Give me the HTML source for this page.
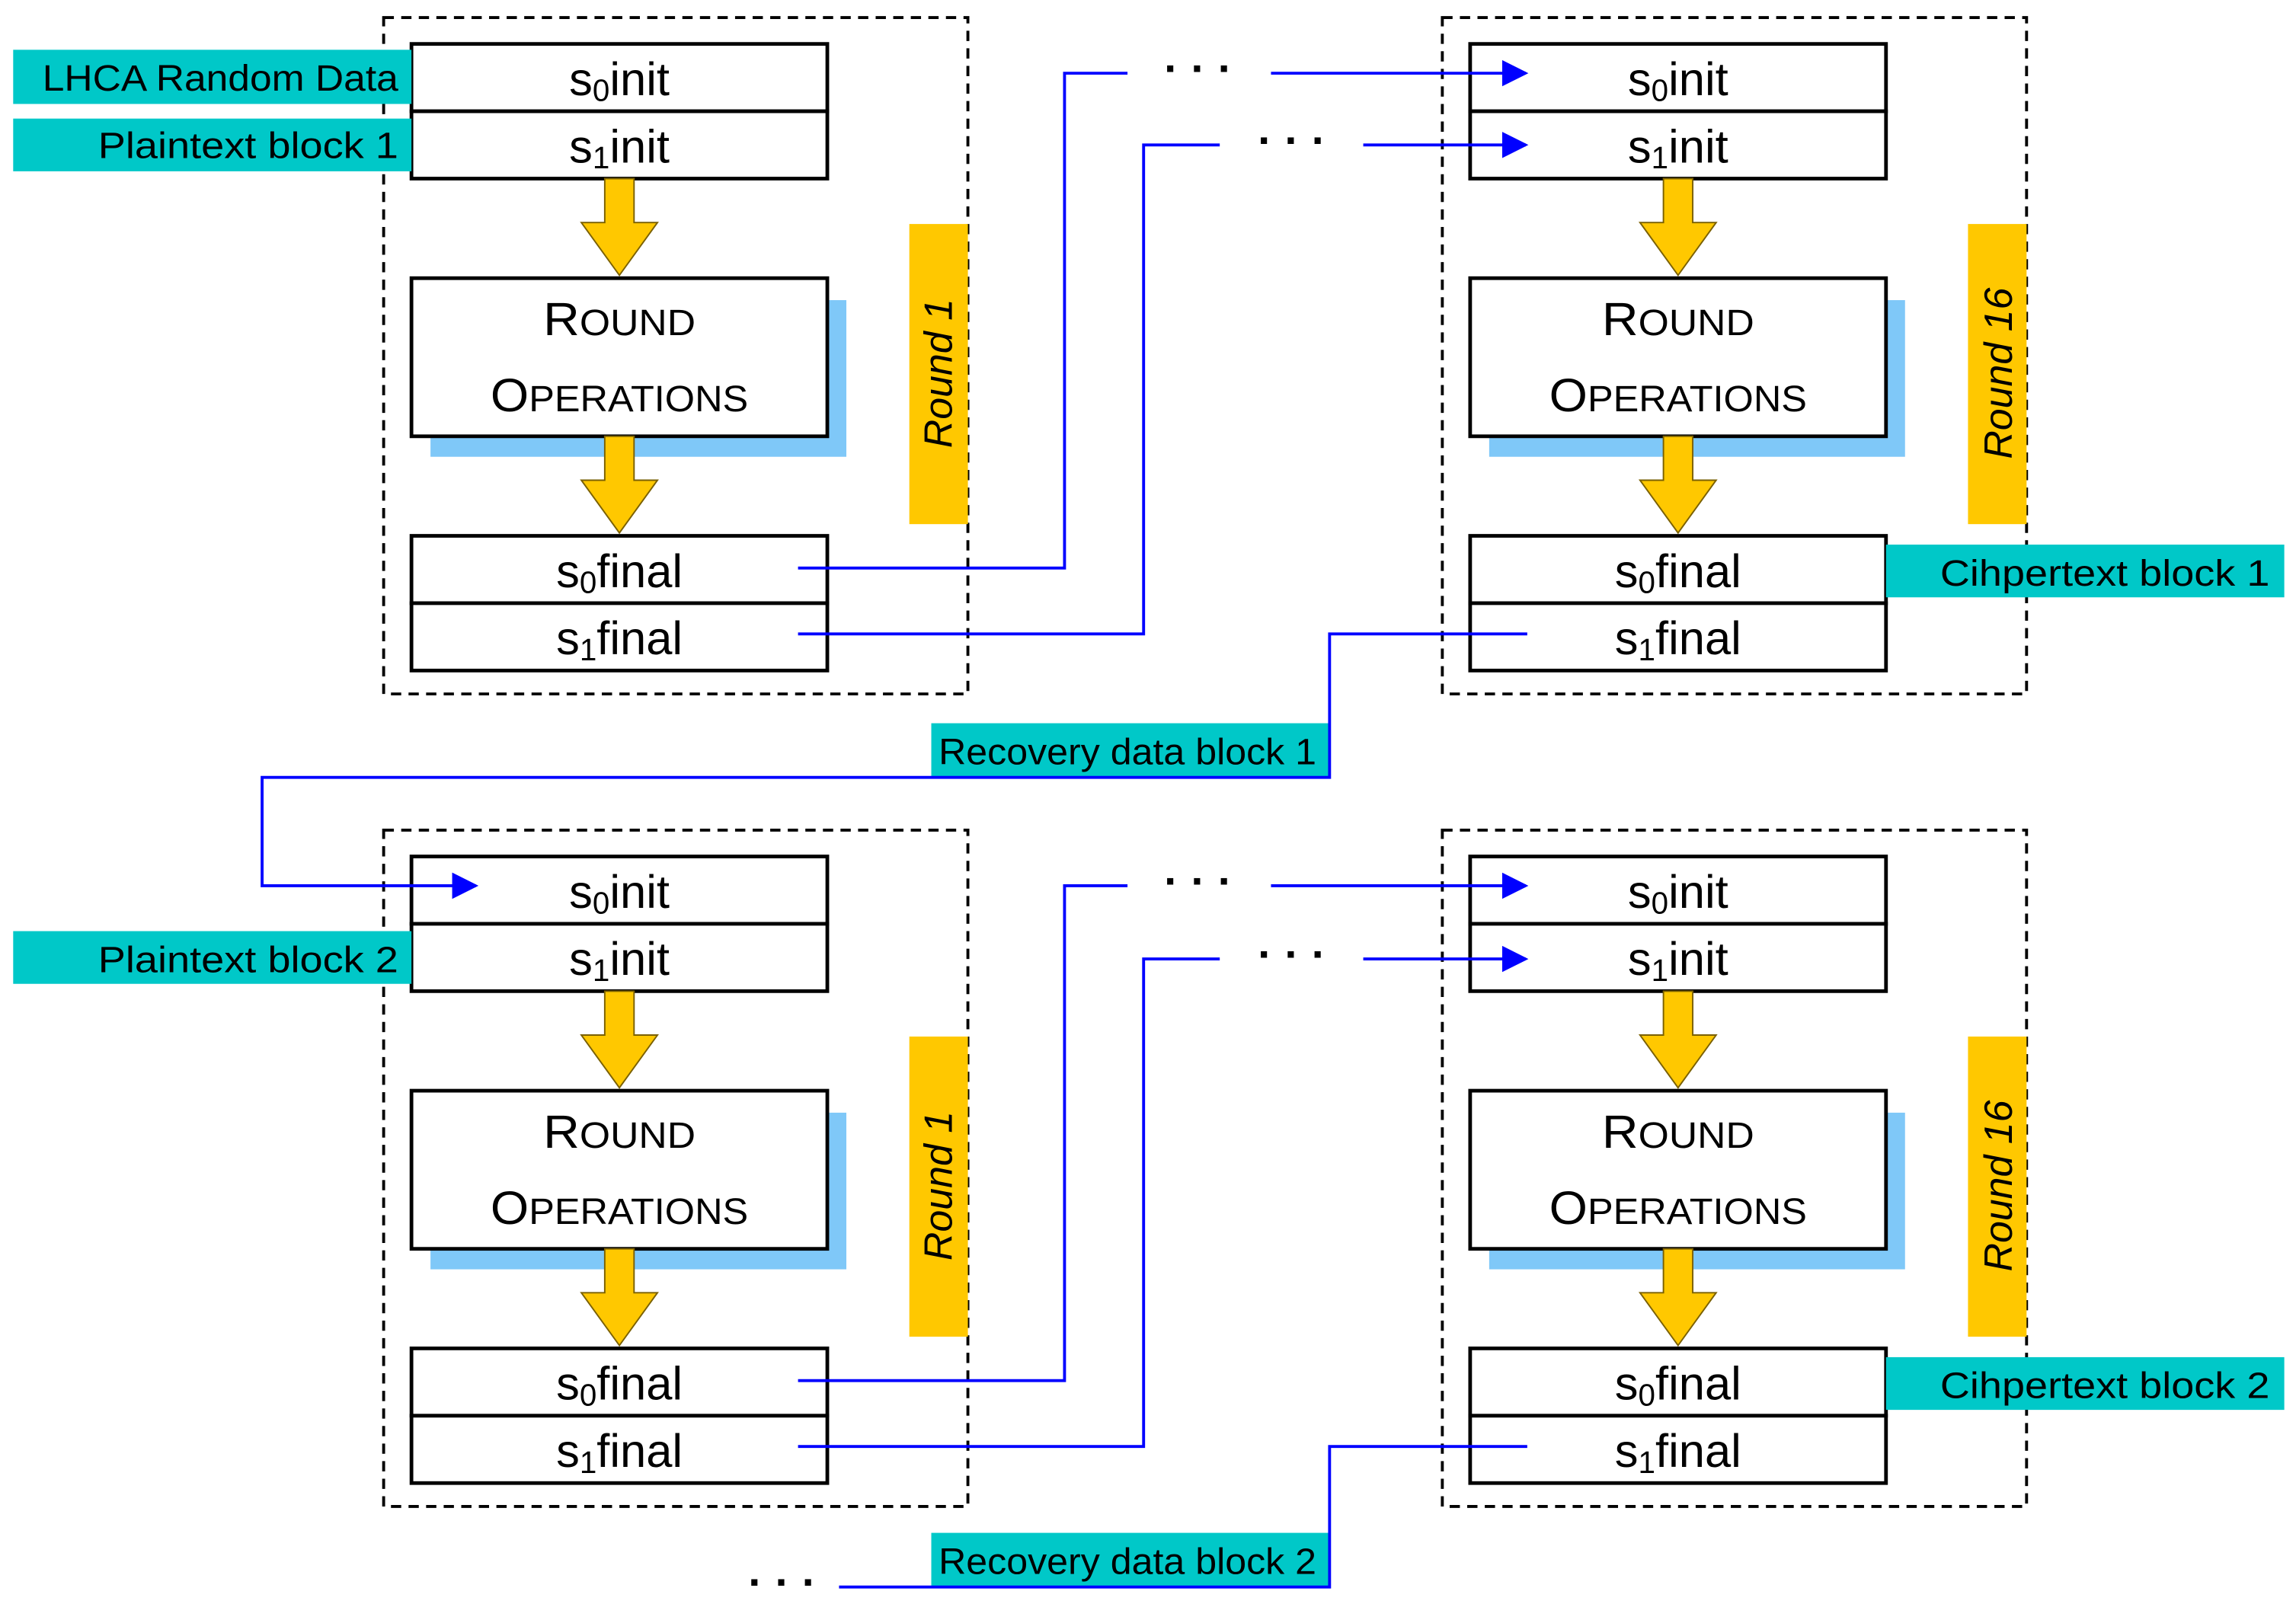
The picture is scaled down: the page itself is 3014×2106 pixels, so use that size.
<!DOCTYPE html>
<html><head><meta charset="utf-8"><style>
html,body{margin:0;padding:0;background:#fff;}
svg{display:block;}
text{font-family:"Liberation Sans",sans-serif;}
</style></head><body>
<svg width="3014" height="2106" viewBox="0 0 1568 1095.6" preserveAspectRatio="none" xmlns="http://www.w3.org/2000/svg">
<defs>
<marker id="ah" viewBox="0 0 10 10" refX="9" refY="5" markerWidth="9" markerHeight="9" orient="auto" markerUnits="strokeWidth"><path d="M0,0 L10,5 L0,10 z" fill="#0000ff"/></marker>
</defs>

<g id="m1">
<rect x="262" y="12" width="399" height="462" fill="none" stroke="#000" stroke-width="2" stroke-dasharray="7,5"/>
<rect x="621" y="153" width="40" height="205" fill="#ffc800"/>
<rect x="294" y="205" width="284" height="107" fill="#7fc8f8"/>
<rect x="281" y="30" width="284" height="46" fill="#fff" stroke="#000" stroke-width="2.5"/>
<rect x="281" y="76" width="284" height="46" fill="#fff" stroke="#000" stroke-width="2.5"/>
<polygon points="413,122 433,122 433,152 449,152 423,188 397,152 413,152" fill="#ffc800" stroke="#7a6000" stroke-width="1"/>
<rect x="281" y="190" width="284" height="108" fill="#fff" stroke="#000" stroke-width="2.5"/>
<polygon points="413,298 433,298 433,328 449,328 423,364 397,328 413,328" fill="#ffc800" stroke="#7a6000" stroke-width="1"/>
<rect x="281" y="366" width="284" height="46" fill="#fff" stroke="#000" stroke-width="2.5"/>
<rect x="281" y="412" width="284" height="46" fill="#fff" stroke="#000" stroke-width="2.5"/>
</g>
<use href="#m1" transform="translate(723,0)"/>
<use href="#m1" transform="translate(0,555)"/>
<use href="#m1" transform="translate(723,555)"/>

<g font-size="32" text-anchor="middle" fill="#000">
<text x="423" y="65">s<tspan font-size="21" dy="4">0</tspan><tspan dy="-4">init</tspan></text>
<text x="423" y="111">s<tspan font-size="21" dy="4">1</tspan><tspan dy="-4">init</tspan></text>
<text x="423" y="401">s<tspan font-size="21" dy="4">0</tspan><tspan dy="-4">final</tspan></text>
<text x="423" y="447">s<tspan font-size="21" dy="4">1</tspan><tspan dy="-4">final</tspan></text>
<text x="1146" y="65">s<tspan font-size="21" dy="4">0</tspan><tspan dy="-4">init</tspan></text>
<text x="1146" y="111">s<tspan font-size="21" dy="4">1</tspan><tspan dy="-4">init</tspan></text>
<text x="1146" y="401">s<tspan font-size="21" dy="4">0</tspan><tspan dy="-4">final</tspan></text>
<text x="1146" y="447">s<tspan font-size="21" dy="4">1</tspan><tspan dy="-4">final</tspan></text>
<text x="423" y="620">s<tspan font-size="21" dy="4">0</tspan><tspan dy="-4">init</tspan></text>
<text x="423" y="666">s<tspan font-size="21" dy="4">1</tspan><tspan dy="-4">init</tspan></text>
<text x="423" y="956">s<tspan font-size="21" dy="4">0</tspan><tspan dy="-4">final</tspan></text>
<text x="423" y="1002">s<tspan font-size="21" dy="4">1</tspan><tspan dy="-4">final</tspan></text>
<text x="1146" y="620">s<tspan font-size="21" dy="4">0</tspan><tspan dy="-4">init</tspan></text>
<text x="1146" y="666">s<tspan font-size="21" dy="4">1</tspan><tspan dy="-4">init</tspan></text>
<text x="1146" y="956">s<tspan font-size="21" dy="4">0</tspan><tspan dy="-4">final</tspan></text>
<text x="1146" y="1002">s<tspan font-size="21" dy="4">1</tspan><tspan dy="-4">final</tspan></text>
</g>
<g font-size="32" text-anchor="middle" fill="#000">
<text x="423" y="229" textLength="104" lengthAdjust="spacingAndGlyphs">R<tspan font-size="25">OUND</tspan></text>
<text x="423" y="281" textLength="176" lengthAdjust="spacingAndGlyphs">O<tspan font-size="25">PERATIONS</tspan></text>
<text x="1146" y="229" textLength="104" lengthAdjust="spacingAndGlyphs">R<tspan font-size="25">OUND</tspan></text>
<text x="1146" y="281" textLength="176" lengthAdjust="spacingAndGlyphs">O<tspan font-size="25">PERATIONS</tspan></text>
<text x="423" y="784" textLength="104" lengthAdjust="spacingAndGlyphs">R<tspan font-size="25">OUND</tspan></text>
<text x="423" y="836" textLength="176" lengthAdjust="spacingAndGlyphs">O<tspan font-size="25">PERATIONS</tspan></text>
<text x="1146" y="784" textLength="104" lengthAdjust="spacingAndGlyphs">R<tspan font-size="25">OUND</tspan></text>
<text x="1146" y="836" textLength="176" lengthAdjust="spacingAndGlyphs">O<tspan font-size="25">PERATIONS</tspan></text>
</g>
<g font-size="27" font-style="italic" text-anchor="middle" fill="#000">
<text transform="translate(650,255) rotate(-90)">Round 1</text>
<text transform="translate(1374,255) rotate(-90)">Round 16</text>
<text transform="translate(650,810) rotate(-90)">Round 1</text>
<text transform="translate(1374,810) rotate(-90)">Round 16</text>
</g>

<g fill="#00c8c8">
<rect x="9" y="34" width="272" height="37"/>
<rect x="9" y="81" width="272" height="36"/>
<rect x="9" y="636" width="272" height="36"/>
<rect x="1288" y="372" width="272" height="36"/>
<rect x="1288" y="927" width="272" height="36"/>
<rect x="636" y="494" width="272" height="37"/>
<rect x="636" y="1047" width="272" height="37"/>
</g>
<g font-size="25" fill="#000">
<text x="272" y="62" text-anchor="end" textLength="243" lengthAdjust="spacingAndGlyphs">LHCA Random Data</text>
<text x="272" y="108" text-anchor="end" textLength="205" lengthAdjust="spacingAndGlyphs">Plaintext block 1</text>
<text x="272" y="664" text-anchor="end" textLength="205" lengthAdjust="spacingAndGlyphs">Plaintext block 2</text>
<text x="1550" y="400" text-anchor="end" textLength="225" lengthAdjust="spacingAndGlyphs">Cihpertext block 1</text>
<text x="1550" y="955" text-anchor="end" textLength="225" lengthAdjust="spacingAndGlyphs">Cihpertext block 2</text>
<text x="641" y="522" textLength="258" lengthAdjust="spacingAndGlyphs">Recovery data block 1</text>
<text x="641" y="1075" textLength="258" lengthAdjust="spacingAndGlyphs">Recovery data block 2</text>
</g>

<g fill="none" stroke="#0000ff" stroke-width="2">
<polyline points="545,388 727,388 727,50 770,50"/>
<polyline points="868,50 1042,50" marker-end="url(#ah)"/>
<polyline points="545,433 781,433 781,99 833,99"/>
<polyline points="931,99 1042,99" marker-end="url(#ah)"/>
<polyline points="1043,433 908,433 908,531 179,531 179,605 325,605" marker-end="url(#ah)"/>
<polyline points="545,943 727,943 727,605 770,605"/>
<polyline points="868,605 1042,605" marker-end="url(#ah)"/>
<polyline points="545,988 781,988 781,655 833,655"/>
<polyline points="931,655 1042,655" marker-end="url(#ah)"/>
<polyline points="1043,988 908,988 908,1084 573,1084"/>
</g>
<g font-size="30" font-weight="bold" fill="#000">
<text x="795" y="57">· · ·</text>
<text x="859" y="106">· · ·</text>
<text x="795" y="612">· · ·</text>
<text x="859" y="662">· · ·</text>
<text x="511" y="1091">· · ·</text>
</g>
</svg>
</body></html>
